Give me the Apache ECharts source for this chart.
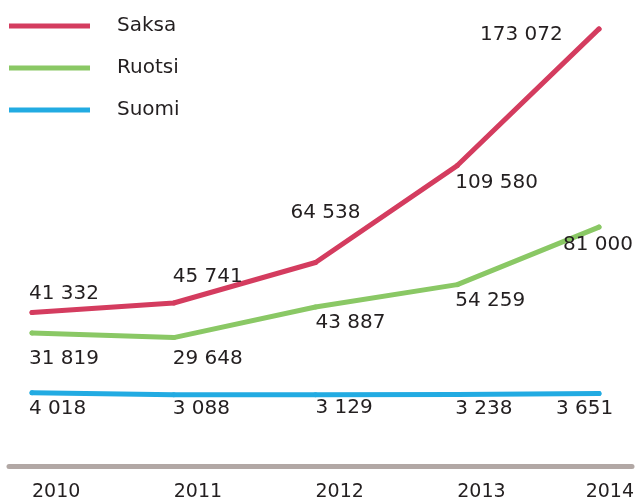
<!DOCTYPE html>
<html>
<head>
<meta charset="utf-8">
<script src="https://cdn.jsdelivr.net/npm/echarts@6/dist/echarts.min.js"></script>
<style>
  html, body { margin: 0; padding: 0; background: #fff; }
  #chart { width: 637px; height: 504px; }
</style>
</head>
<body>
<div id="chart"></div>
<script>
// vuodet
var years = ['2010', '2011', '2012', '2013', '2014'];
// sarjat
var seriesNames = ['Saksa', 'Ruotsi', 'Suomi'];
var saksa = [41332, 45741, 64538, 109580, 173072];
var ruotsi = [31819, 29648, 43887, 54259, 81000];
var suomi = [4018, 3088, 3129, 3238, 3651];

var colors = ['#d43c5f', '#8ac865', '#22abe2'];
var textColor = '#231f20';
var font = 'DejaVu Sans';

// arvotekstien siirrot pisteestä [dx, dy]
var labelShift = [
    [[-3, -19], [-1, -26], [-25, -50], [-2, 17], [-119, 6]],
    [[-3, 26], [-1, 21], [0, 16], [-2, 16], [-36, 18]],
    [[-3, 16], [-1, 14], [0, 13], [-2, 14], [-43, 15]]
];

function fmt(v) {
    return String(v).replace(/\B(?=(\d{3})+(?!\d))/g, ' ');
}

function makeSeries(idx, values) {
    return {
        name: seriesNames[idx],
        type: 'line',
        xAxisIndex: 0,
        yAxisIndex: 0,
        symbol: 'circle',
        symbolSize: 5,
        showSymbol: true,
        lineStyle: { width: 5, color: colors[idx], cap: 'round', join: 'round' },
        itemStyle: { color: colors[idx] },
        emphasis: { disabled: true },
        data: values.map(function (v, i) {
            return {
                value: v,
                label: { offset: labelShift[idx][i] }
            };
        }),
        label: {
            show: true,
            position: 'inside',
            align: 'left',
            verticalAlign: 'middle',
            fontFamily: font,
            fontSize: 20,
            color: textColor,
            formatter: function (p) { return fmt(p.value); }
        }
    };
}

var chart = echarts.init(document.getElementById('chart'));

var option = {
    animation: false,
    backgroundColor: '#fff',
    color: colors,
    legend: {
        orient: 'vertical',
        left: 9,
        top: 16,
        padding: 0,
        itemWidth: 81,
        itemHeight: 5,
        itemGap: 22,
        icon: 'rect',
        data: seriesNames,
        textStyle: {
            fontFamily: font,
            fontSize: 20,
            color: textColor,
            padding: [0, 0, 0, 22]
        }
    },
    grid: [
        { left: 32, right: 37, top: 14, bottom: 38 },
        { left: 9, right: 5, top: 14, bottom: 38 }
    ],
    xAxis: [
        {
            type: 'category',
            gridIndex: 0,
            data: years,
            boundaryGap: false,
            axisLine: { show: false, onZero: false },
            axisTick: { show: false },
            splitLine: { show: false },
            axisLabel: {
                interval: 0,
                align: 'left',
                margin: 17,
                fontFamily: font,
                fontSize: 19,
                color: textColor,
                formatter: function (v, i) {
                    return i === years.length - 1 ? '{end|' + v + '}' : v;
                },
                rich: {
                    end: { width: 35, align: 'right', fontFamily: font, fontSize: 19, color: textColor }
                }
            }
        },
        {
            type: 'value',
            gridIndex: 1,
            axisLine: { show: true, onZero: false, lineStyle: { color: '#b2a8a5', width: 5 } },
            axisTick: { show: false },
            axisLabel: { show: false },
            splitLine: { show: false }
        }
    ],
    yAxis: [
        { type: 'value', gridIndex: 0, min: -30000, max: 180000, show: false },
        { type: 'value', gridIndex: 1, show: false }
    ],
    series: [
        makeSeries(0, saksa),
        makeSeries(1, ruotsi),
        makeSeries(2, suomi)
    ]
};

chart.setOption(option);
</script>
</body>
</html>
